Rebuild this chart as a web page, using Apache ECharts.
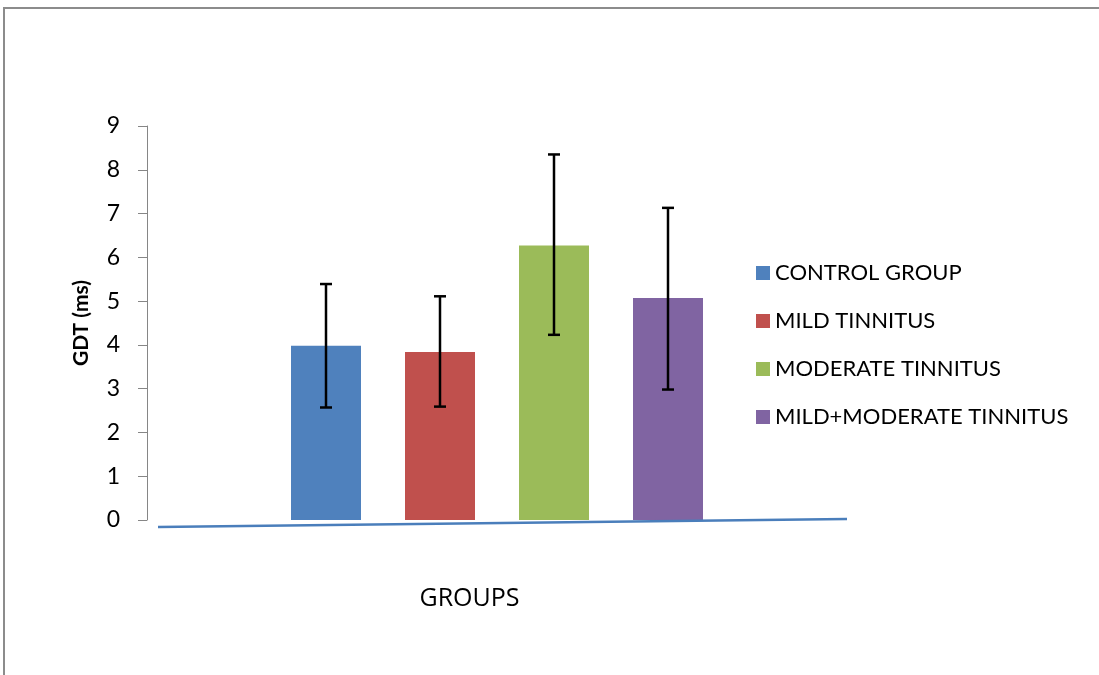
<!DOCTYPE html>
<html>
<head>
<meta charset="utf-8">
<script src="https://cdn.jsdelivr.net/npm/echarts@6/dist/echarts.min.js"></script>
<style>
html,body{margin:0;padding:0;background:#fff;}
#chart{width:1099px;height:675px;}
</style>
</head>
<body>
<div id="chart"></div>
<script>
const categories = ['GROUPS'];
const seriesNames = ['CONTROL GROUP', 'MILD TINNITUS', 'MODERATE TINNITUS', 'MILD+MODERATE TINNITUS'];
const means = [3.98, 3.84, 6.27, 5.07];
const errLow = [2.57, 2.59, 4.23, 2.98];
const errHigh = [5.39, 5.11, 8.35, 7.13];
const colors = ['#4f81bd', '#c0504d', '#9bbb59', '#8064a2'];
const yMin = 0, yMax = 9, yStep = 1;

const BAR_W = 70, BAR_GAP = 44;
const FONT = 'Lato, "Open Sans", sans-serif';

const chart = echarts.init(document.getElementById('chart'));

const barSeries = seriesNames.map((name, i) => ({
  name: name,
  type: 'bar',
  data: [means[i]],
  barWidth: BAR_W,
  barGap: (BAR_GAP / BAR_W * 100) + '%',
  itemStyle: { color: colors[i] },
  emphasis: { disabled: true },
  z: 2
}));

const errData = seriesNames.map((n, i) => [0, errLow[i], errHigh[i], i]);

const errSeries = {
  type: 'custom',
  name: 'err',
  data: errData,
  z: 5,
  renderItem: function (params, api) {
    const idx = api.value(3);
    const lo = api.coord([api.value(0), api.value(1)]);
    const hi = api.coord([api.value(0), api.value(2)]);
    const n = seriesNames.length;
    const total = n * BAR_W + (n - 1) * BAR_GAP;
    const x = lo[0] - total / 2 + BAR_W / 2 + idx * (BAR_W + BAR_GAP);
    const cap = 6;
    const st = { stroke: '#000', lineWidth: 2.5 };
    return {
      type: 'group',
      children: [
        { type: 'line', shape: { x1: x, y1: lo[1], x2: x, y2: hi[1] }, style: st },
        { type: 'line', shape: { x1: x - cap, y1: lo[1], x2: x + cap, y2: lo[1] }, style: st },
        { type: 'line', shape: { x1: x - cap, y1: hi[1], x2: x + cap, y2: hi[1] }, style: st }
      ]
    };
  }
};

function baseGraphics() {
  return [
    {
      type: 'rect',
      shape: { x: 4, y: 8, width: 1200, height: 800 },
      style: { fill: 'none', stroke: '#8c8c8c', lineWidth: 2 },
      silent: true,
      z: 0
    },
    {
      type: 'text',
      style: { text: 'GROUPS', x: 469.5, y: 599, textAlign: 'center', textVerticalAlign: 'middle', fontSize: 25, fill: '#000', fontFamily: '"Open Sans", Lato, sans-serif' }
    }
  ];
}

chart.setOption({
  animation: false,
  backgroundColor: '#fff',
  textStyle: { fontFamily: FONT },
  grid: { left: 147, right: 252, top: 126, bottom: 155, containLabel: false },
  legend: {
    data: seriesNames,
    orient: 'vertical',
    left: 751,
    top: 257,
    itemWidth: 14,
    itemHeight: 14,
    itemGap: 26,
    icon: 'rect',
    textStyle: { fontSize: 22, color: '#000', fontFamily: FONT }
  },
  xAxis: {
    type: 'category',
    data: categories,
    axisLine: { show: false },
    axisTick: { show: false },
    axisLabel: { show: false }
  },
  yAxis: {
    type: 'value',
    min: yMin,
    max: yMax,
    interval: yStep,
    name: 'GDT (ms)',
    nameLocation: 'middle',
    nameGap: 55,
    nameTextStyle: { fontSize: 21, fontWeight: 'bold', color: '#000', fontFamily: FONT },
    axisLine: { show: true, lineStyle: { color: '#868686', width: 1 } },
    axisTick: { show: true, inside: false, length: 9, lineStyle: { color: '#868686' } },
    axisLabel: { fontSize: 23, color: '#000', margin: 27, fontFamily: FONT },
    splitLine: { show: false }
  },
  series: barSeries.concat([errSeries]),
  graphic: baseGraphics()
});

// slanted baseline drawn relative to the axes
const yLeft = chart.convertToPixel({ yAxisIndex: 0 }, -0.16);
const yRight = chart.convertToPixel({ yAxisIndex: 0 }, 0.02);
const gridLeft = 147, gridRight = 1099 - 252;
chart.setOption({
  graphic: baseGraphics().concat([
    {
      type: 'line',
      shape: { x1: gridLeft + 11, y1: yLeft, x2: gridRight, y2: yRight },
      style: { stroke: '#4a7ebb', lineWidth: 2.5 },
      z: 10
    }
  ])
});
</script>
</body>
</html>
